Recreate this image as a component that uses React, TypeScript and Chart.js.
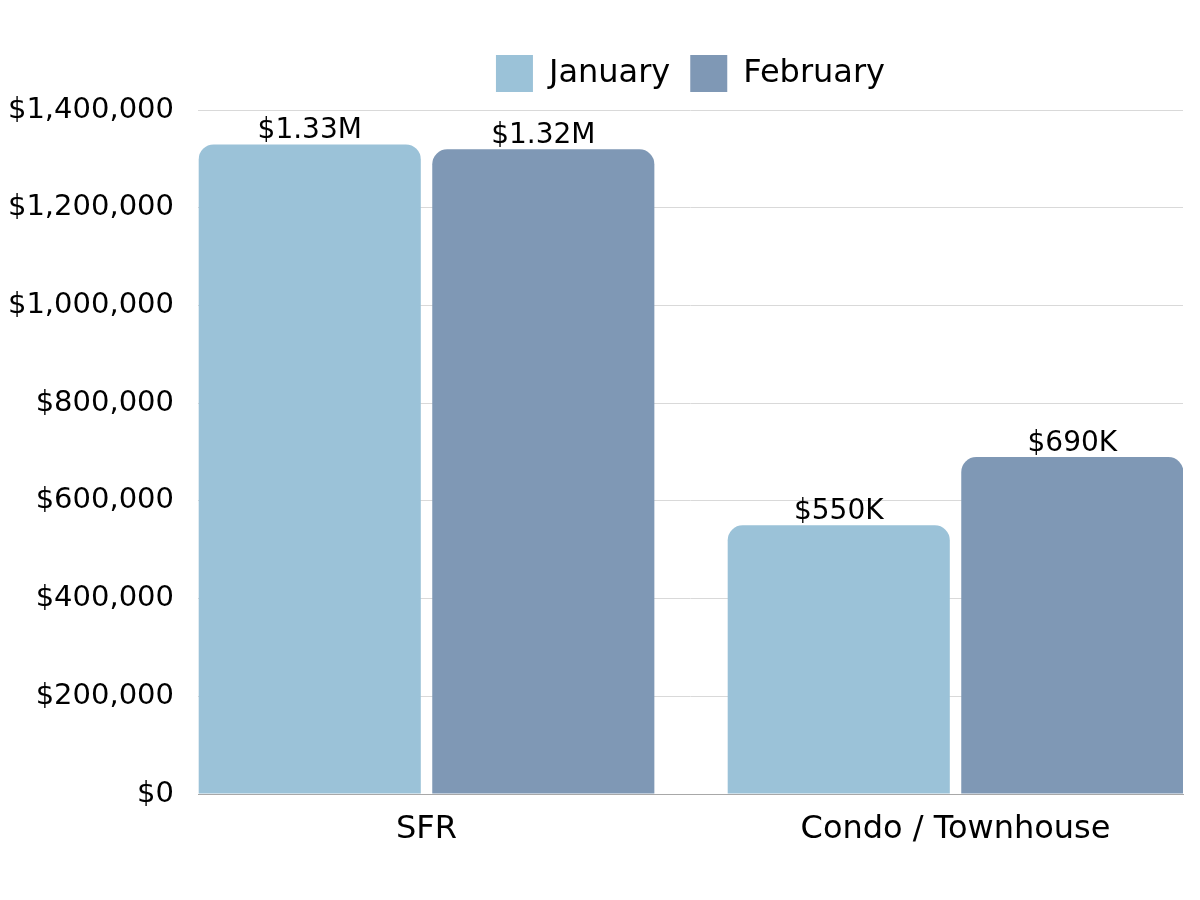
import React, { useEffect, useRef } from "react";
import { Chart, registerables } from "chart.js";

Chart.register(...registerables);

const categories = ["SFR", "Condo / Townhouse"];
const seriesNames = ["January", "February"];
const januaryValues = [1330000, 550000];
const februaryValues = [1320000, 690000];
const seriesColors = ["#9bc2d8", "#7f98b5"];
const yTickValues = [0, 200000, 400000, 600000, 800000, 1000000, 1200000, 1400000];

const FONT = "'DejaVu Sans', sans-serif";

function formatShort(v: number): string {
  if (v >= 1000000) return "$" + (v / 1000000).toFixed(2) + "M";
  return "$" + Math.round(v / 1000) + "K";
}

const valueLabels = {
  id: "valueLabels",
  afterDatasetsDraw(chart: any) {
    const ctx = chart.ctx;
    ctx.save();
    ctx.font = `28px ${FONT}`;
    ctx.fillStyle = "#000";
    ctx.textAlign = "center";
    ctx.textBaseline = "alphabetic";
    chart.data.datasets.forEach((ds: any, di: number) => {
      const meta = chart.getDatasetMeta(di);
      meta.data.forEach((el: any, i: number) => {
        const v = ds.data[i].y;
        ctx.fillText(formatShort(v), el.x, el.y - 6);
      });
    });
    ctx.restore();
  },
};

export default function App() {
  const ref = useRef<HTMLCanvasElement | null>(null);
  useEffect(() => {
    if (!ref.current) return;
    const allSeries = [januaryValues, februaryValues];
    const chart = new Chart(ref.current, {
      type: "bar",
      data: {
        datasets: allSeries.map((vals, si) => ({
          label: seriesNames[si],
          data: vals.map((y, i) => ({ x: i, y })),
          backgroundColor: seriesColors[si],
          borderRadius: 15,
          borderSkipped: "start",
          categoryPercentage: 0.883,
          barPercentage: 0.951,
        })),
      } as any,
      options: {
        animation: false,
        responsive: true,
        maintainAspectRatio: false,
        layout: { padding: { top: 27, right: 9, left: 0, bottom: 0 } },
        plugins: {
          title: {
            display: true,
            text: "",
            weight: 500,
            font: { size: 1 },
            padding: { top: 0, bottom: 7 },
          },
          legend: {
            position: "top",
            fullSize: false,
            labels: {
              boxWidth: 37,
              boxHeight: 37,
              padding: 20,
              color: "#000",
              font: { family: FONT, size: 32 },
            },
          },
          tooltip: { enabled: false },
        },
        scales: {
          x: {
            type: "linear",
            offset: false,
            min: -0.432,
            max: 1.43,
            grid: { display: false, drawTicks: false },
            border: { display: true, color: "#a8a8a8", width: 1 },
            afterBuildTicks: (axis: any) => {
              axis.ticks = categories.map((_, i) => ({ value: i }));
            },
            afterFit: (axis: any) => {
              axis.height = 98;
            },
            ticks: {
              padding: 16,
              color: "#000",
              font: { family: FONT, size: 32 },
              callback: (_v: any, index: number) => categories[index],
            },
          },
          y: {
            min: 0,
            max: 1400000,
            grid: { color: "#d9d9d9", drawTicks: false },
            border: { display: false },
            afterBuildTicks: (axis: any) => {
              axis.ticks = yTickValues.map((v) => ({ value: v }));
            },
            afterFit: (axis: any) => {
              axis.width = 190;
            },
            ticks: {
              padding: 24,
              color: "#000",
              font: { family: FONT, size: 29 },
              callback: (v: any) => "$" + Number(v).toLocaleString("en-US"),
            },
          },
        },
      } as any,
      plugins: [valueLabels],
    });
    return () => chart.destroy();
  }, []);
  return (
    <div style={{ width: 1184, height: 884, position: "relative" }}>
      <canvas ref={ref} />
    </div>
  );
}
